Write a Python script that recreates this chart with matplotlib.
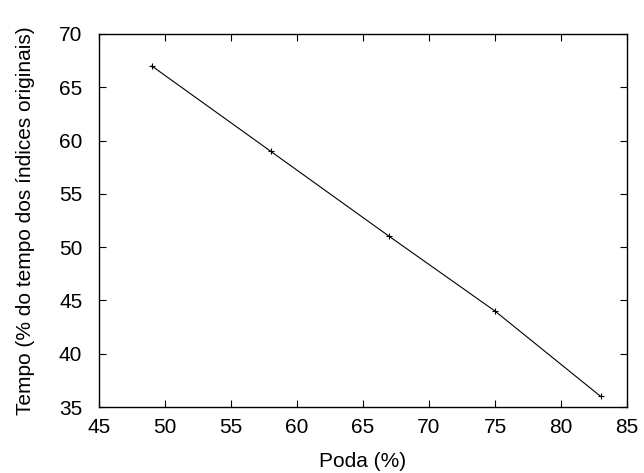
import matplotlib
matplotlib.use("Agg")
import matplotlib.pyplot as plt

plt.rcParams['font.family'] = ['Liberation Sans', 'DejaVu Sans']

poda = [49, 58, 67, 75, 83]
tempo = [67, 59, 51, 44, 36]

x_ticks = [45, 50, 55, 60, 65, 70, 75, 80, 85]
y_ticks = [35, 40, 45, 50, 55, 60, 65, 70]

fig = plt.figure(figsize=(6.44, 4.73), dpi=100)
ax = fig.add_axes([99 / 644, 1 - 407 / 473, (627 - 99) / 644, (407 - 34) / 473])

ax.plot(poda, tempo, color='black', linewidth=0.8, marker='+', markersize=5, markeredgewidth=0.8)

ax.set_xlim(45, 85)
ax.set_ylim(35, 70)
ax.set_xticks(x_ticks)
ax.set_yticks(y_ticks)
ax.tick_params(direction='in', top=True, right=True, length=5, width=0.8, labelsize=15)
ax.tick_params(axis='x', pad=8)
ax.tick_params(axis='y', pad=12)
for s in ax.spines.values():
    s.set_linewidth(1.0)

ax.set_xlabel('Poda (%)', fontsize=15, labelpad=11)
ax.set_ylabel('Tempo (% do tempo dos índices originais)', fontsize=15, labelpad=17)

fig.savefig('out.png', dpi=100)
